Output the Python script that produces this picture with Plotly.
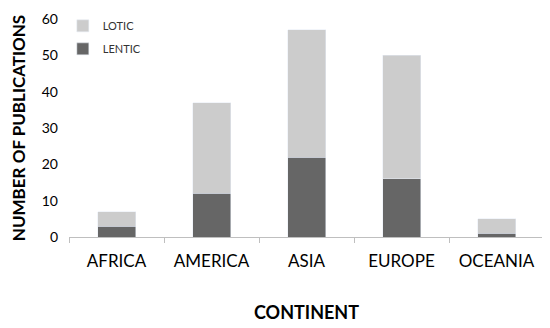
import plotly.graph_objects as go

continents = ["AFRICA", "AMERICA", "ASIA", "EUROPE", "OCEANIA"]
lentic = [3, 12, 22, 16, 1]
lotic = [4, 25, 35, 34, 4]

fig = go.Figure()
fig.add_trace(go.Bar(x=continents, y=lentic, name="LENTIC", marker_color="#666666",
                     width=0.4, legendgroup="lentic", legendrank=2))
fig.add_trace(go.Bar(x=continents, y=lotic, name="LOTIC", marker_color="#cccccc",
                     width=0.4, legendgroup="lotic", legendrank=1))

# the page body adds an 8px margin, so the figure is drawn 8px smaller
fig.update_layout(
    width=542, height=320,
    barmode="stack",
    plot_bgcolor="white", paper_bgcolor="white",
    font=dict(family="Lato", color="#000000"),
    margin=dict(l=61, r=6, t=11, b=91, autoexpand=False),
    legend=dict(x=-0.013, y=1.035, xanchor="left", yanchor="top", traceorder="grouped",
                font=dict(size=11, color="#333333"), bgcolor="rgba(0,0,0,0)",
                tracegroupgap=4),
)
fig.update_xaxes(
    automargin=False,
    showline=True, linecolor="#bfbfbf", linewidth=1,
    ticks="outside", tickson="boundaries", ticklen=5, tickcolor="#bfbfbf",
    tickfont=dict(size=17), ticklabelstandoff=9,
    title=dict(text="<b>CONTINENT</b>", font=dict(size=18), standoff=35),
)
fig.update_yaxes(
    automargin=False,
    range=[0, 60], dtick=10, showgrid=False, showline=False, zeroline=False,
    tickfont=dict(size=14), ticklabelstandoff=10,
    title=dict(text="<b>NUMBER OF PUBLICATIONS</b>", font=dict(size=17), standoff=19),
)

fig.write_html("out.html")
